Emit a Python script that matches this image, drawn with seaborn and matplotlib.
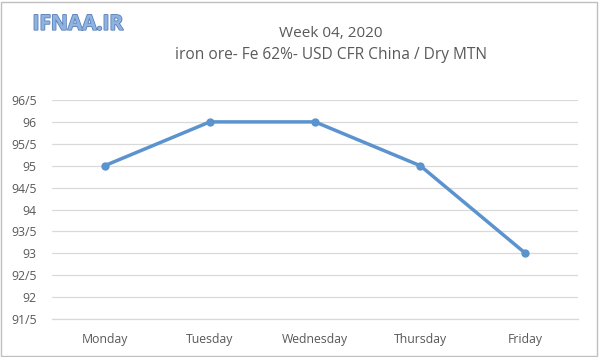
import matplotlib
matplotlib.use("Agg")
import matplotlib.pyplot as plt
import seaborn as sns
import pandas as pd
from matplotlib.patches import Rectangle
import matplotlib.patheffects as pe

days = ["Monday", "Tuesday", "Wednesday", "Thursday", "Friday"]
prices = [95, 96, 96, 95, 93]
yticks = [91.5, 92, 92.5, 93, 93.5, 94, 94.5, 95, 95.5, 96, 96.5]
ytick_labels = ["91/5", "92", "92/5", "93", "93/5", "94", "94/5", "95", "95/5", "96", "96/5"]

sns.set_theme(style="white")
plt.rcParams['font.family'] = ['Open Sans', 'DejaVu Sans']

df = pd.DataFrame({"day": days, "price": prices})
fig = plt.figure(figsize=(6, 3.57), dpi=100)
ax = fig.add_axes([0.0867, 0.1064, 0.8767, 0.6135])

sns.lineplot(data=df, x="day", y="price", ax=ax, color="#5B93CF", linewidth=2.5,
             marker="o", markersize=6, markeredgewidth=0, sort=False)

ax.set_xlim(-0.5, 4.5)
ax.set_ylim(91.5, 96.5)
ax.set_yticks(yticks)
ax.set_yticklabels(ytick_labels)
ax.yaxis.grid(True, color="#D9D9D9", linewidth=0.9)
ax.set_axisbelow(True)
for s in ["top", "right", "left"]:
    ax.spines[s].set_visible(False)
ax.spines["bottom"].set_color("#D9D9D9")
ax.spines["bottom"].set_linewidth(0.9)
ax.tick_params(axis="both", length=0, colors="#595959")
ax.tick_params(axis="x", pad=10, labelsize=8.8)
ax.tick_params(axis="y", pad=11, labelsize=8.8)
ax.set_xlabel("")
ax.set_ylabel("")

fig.text(0.552, 0.905, "Week 04, 2020", ha="center", va="center", fontsize=11, color="#595959")
fig.text(0.551, 0.845, "iron ore- Fe 62%- USD CFR China / Dry MTN", ha="center", va="center",
         fontsize=11.2, color="#595959")
fig.text(0.13, 0.932, "IFNAA.IR", ha="center", va="center", fontsize=15, fontweight="bold",
         color="#8FB3E0",
         path_effects=[pe.withStroke(linewidth=1.2, foreground="#5A7FB8")])

fig.patches.append(Rectangle((0.002, 0.003), 0.993, 0.992, transform=fig.transFigure,
                             fill=False, edgecolor="#BFBFBF", linewidth=1))

fig.savefig("out.png", dpi=100)
